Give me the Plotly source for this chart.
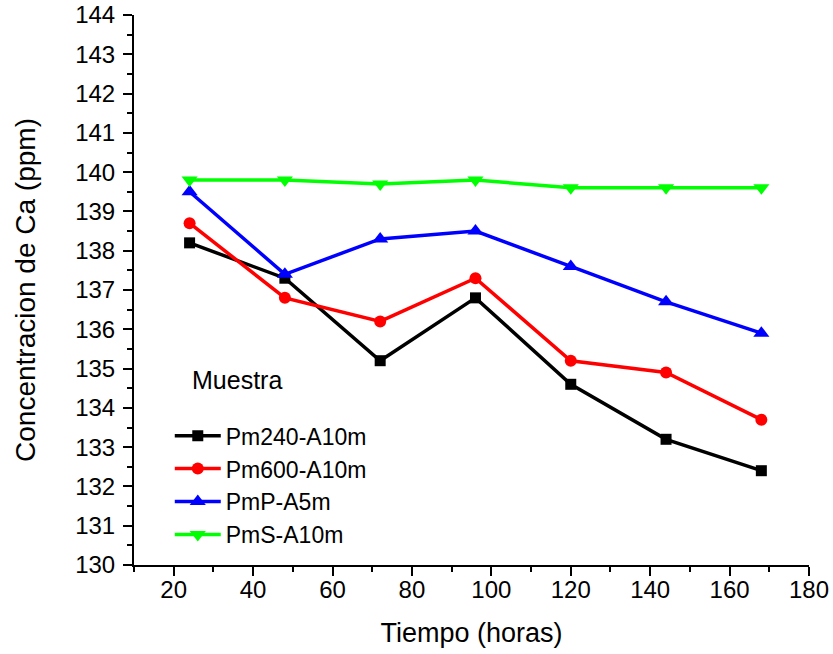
import plotly.graph_objects as go

# Tiempo de muestreo (horas)
tiempo = [24, 48, 72, 96, 120, 144, 168]

# Concentracion de Ca (ppm) por muestra
pm240_a10m = [138.2, 137.3, 135.2, 136.8, 134.6, 133.2, 132.4]
pm600_a10m = [138.7, 136.8, 136.2, 137.3, 135.2, 134.9, 133.7]
pmp_a5m = [139.5, 137.4, 138.3, 138.5, 137.6, 136.7, 135.9]
pms_a10m = [139.8, 139.8, 139.7, 139.8, 139.6, 139.6, 139.6]

series = [
    ("Pm240-A10m", pm240_a10m, "#000000", "square", 11),
    ("Pm600-A10m", pm600_a10m, "#ff0000", "circle", 12),
    ("PmP-A5m", pmp_a5m, "#0000ff", "triangle-up", 14),
    ("PmS-A10m", pms_a10m, "#00ff00", "triangle-down", 14),
]

FONT = "Liberation Sans, Arial, sans-serif"

fig = go.Figure()
for name, vals, color, sym, size in series:
    fig.add_trace(go.Scatter(
        x=tiempo, y=vals, name=name, mode="lines+markers",
        line=dict(color=color, width=3.5),
        marker=dict(symbol=sym, size=size, color=color),
    ))

axis_common = dict(
    showline=True, linecolor="black", linewidth=2,
    ticks="outside", ticklen=9, tickwidth=2, tickcolor="black",
    showgrid=False, zeroline=False, mirror=False, automargin=False,
    tickfont=dict(family=FONT, size=24, color="black"),
)

fig.update_xaxes(
    range=[10, 180], tick0=20, dtick=20,
    minor=dict(ticks="outside", ticklen=5, tickwidth=2, tickcolor="black", dtick=10, tick0=10),
    ticklabelstandoff=-7,
    title=dict(text="Tiempo (horas)", font=dict(family=FONT, size=27, color="black"), standoff=21),
    **axis_common,
)
fig.update_yaxes(
    range=[130, 144], tick0=130, dtick=1,
    minor=dict(ticks="outside", ticklen=5, tickwidth=2, tickcolor="black", dtick=0.5),
    ticklabelstandoff=3,
    title=dict(text="Concentracion de Ca (ppm)", font=dict(family=FONT, size=28, color="black"), standoff=31),
    **axis_common,
)

fig.add_annotation(
    text="Muestra", xref="paper", yref="paper",
    x=0.083, y=0.336, xanchor="left", yanchor="middle", showarrow=False,
    font=dict(family=FONT, size=25, color="black"),
)

fig.update_layout(
    width=833, height=654,
    margin=dict(l=134, r=24, t=15, b=89),
    paper_bgcolor="white", plot_bgcolor="white",
    showlegend=True,
    legend=dict(
        x=0.053, y=0.145, xanchor="left", yanchor="middle",
        bgcolor="rgba(0,0,0,0)", borderwidth=0,
        font=dict(family=FONT, size=23, color="black"),
        tracegroupgap=0, itemwidth=46,
    ),
    font=dict(family=FONT, color="black"),
)

fig.write_html("out.html")
